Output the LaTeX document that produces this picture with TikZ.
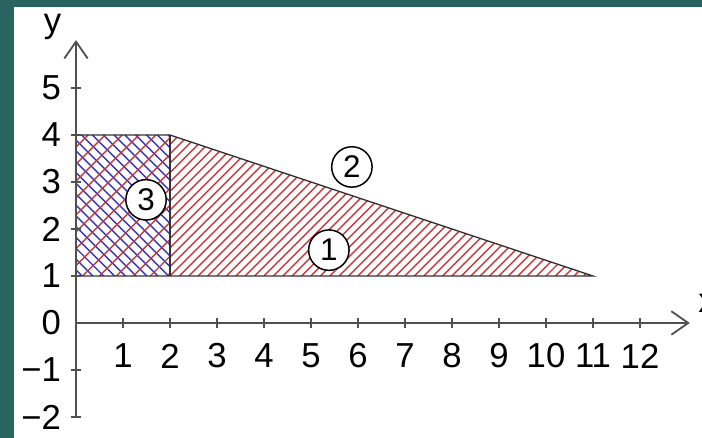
\documentclass[tikz,border=0pt]{standalone}
\usepackage{fontspec}
\setmainfont{Liberation Sans}
\usetikzlibrary{arrows.meta}
\definecolor{frameteal}{RGB}{42,100,96}
\definecolor{hatchred}{RGB}{196,58,62}
\definecolor{hatchblue}{RGB}{52,52,190}
\definecolor{axisgray}{RGB}{80,80,80}

\begin{document}
\begin{tikzpicture}[
    axis/.style={axisgray, line width=1.1pt},
    axisarrow/.style={axis, -{Straight Barb[length=3.6mm,width=5mm,line width=1.1pt]}},
    ticklabel/.style={font=\fontsize{21}{24}\selectfont, inner sep=1pt},
    region/.style={draw=black!80, line width=0.8pt},
    hatch/.style={line width=0.85pt},
    tag/.style={circle, draw=black, fill=white, line width=0.9pt, minimum size=0.86cm,
        inner sep=0pt, font=\fontsize{19}{22}\selectfont}
]
    % Frame
    \useasboundingbox (-1.617,-2.447) rectangle (13.319,6.872);
    \fill[frameteal] (-1.617,-2.447) rectangle (13.319,6.872);
    \fill[white] (-1.319,-2.447) rectangle (13.319,6.723);

    % Hatching of area 1
    \begin{scope}
        \clip (2,1) -- (2,4) -- (11,1) -- cycle;
        \foreach \x in {-1.2,-1.0,...,11}
            \draw[hatch, hatchred] (\x,1) -- ++(3,3);
    \end{scope}

    % Hatching of area 3
    \begin{scope}
        \clip (0,1) rectangle (2,4);
        \foreach \x in {-3.1,-2.87,...,2.2}
            \draw[hatch, hatchblue] (\x,4) -- ++(3,-3);
        \foreach \x in {-3.1,-2.74,...,2.2}
            \draw[hatch, hatchred] (\x,1) -- ++(3,3);
    \end{scope}

    % Outlines
    \coordinate (o1) at (0,1);
    \coordinate (o4) at (0,4);
    \coordinate (a) at (2,1);
    \coordinate (b) at (2,4);
    \coordinate (c) at (11,1);
    \draw[region] (o4) -- (b) -- (c) -- (a) -- (o1);
    \draw[region] (a) -- (b);

    % Axes
    \coordinate (xs) at (0,0);
    \coordinate (xe) at (13.06,0);
    \coordinate (ys) at (0,-2);
    \coordinate (ye) at (0,6.02);
    \draw[axisarrow] (xs) -- (xe);
    \draw[axisarrow] (ys) -- (ye);
    \node[ticklabel, anchor=west] (xlab) at (13.2,0.42) {x};
    \node[ticklabel] (ylab) at (-0.5,6.3) {y};

    % Ticks
    \foreach \i in {1,...,12} {
        \draw[axis] (\i,-0.1) -- (\i,0.1);
        \node[ticklabel] (xt\i) at (\i,-0.7) {\i};
    }
    \foreach \j/\t in {-2/−2,-1/−1,1/1,2/2,3/3,4/4,5/5} {
        \draw[axis] (-0.1,\j) -- (0.1,\j);
        \node[ticklabel, anchor=east] (yt\j) at (-0.28,\j) {\t};
    }
    \node[ticklabel, anchor=east] (yt0) at (-0.28,0) {0};

    % Area tags
    \node[tag] (one) at (5.38,1.55) {1};
    \node[tag] (two) at (5.87,3.32) {2};
    \node[tag] (three) at (1.49,2.62) {3};
\end{tikzpicture}
\end{document}
